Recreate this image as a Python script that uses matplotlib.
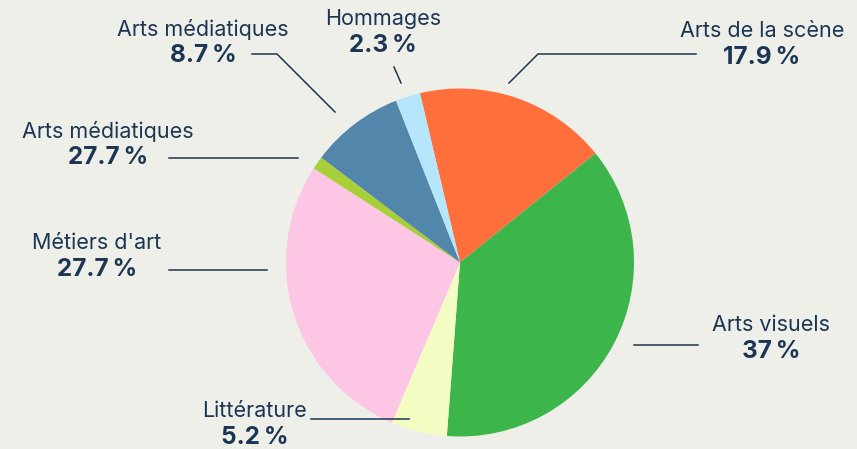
import matplotlib.pyplot as plt

# slice data, clockwise starting from the top
labels = ["Arts de la scène", "Arts visuels", "Littérature", "Métiers d'art",
          "Arts médiatiques", "Arts médiatiques", "Hommages"]
values = [17.9, 37.0, 5.2, 27.7, 1.2, 8.7, 2.3]
value_labels = ["17.9\u2009%", "37\u2009%", "5.2\u2009%", "27.7\u2009%",
                "27.7\u2009%", "8.7\u2009%", "2.3\u2009%"]
colors = ["#FF6F3C", "#3CB64B", "#F3FCC2", "#FDC6E4",
          "#A8CF38", "#5286AB", "#B5E6FC"]

W, H = 857, 449
bg = "#EFEFEA"
ink = "#1B3553"

plt.rcParams["font.family"] = ["Inter", "DejaVu Sans"]

fig = plt.figure(figsize=(W / 100, H / 100), dpi=100, facecolor=bg)
ax = fig.add_axes([0, 0, 1, 1])
ax.set_facecolor(bg)

cx, cy, r = 460, H - 262.5, 174
ax.pie(values, colors=colors, startangle=103.3, counterclock=False,
       center=(cx, cy), radius=r, frame=True,
       wedgeprops=dict(edgecolor="none"))
ax.set_xlim(0, W)
ax.set_ylim(0, H)
ax.set_aspect("equal")
ax.axis("off")

# label layout in image pixels: text centre x, name y, leader line points
layout = [
    (762, 31, [(696, 54), (538, 54), (509, 83)]),
    (771, 325, [(698, 345), (634, 345)]),
    (255, 411, [(311, 419), (409, 419)]),
    (97, 243, [(169, 270), (267, 270)]),
    (108, 131, [(169, 158), (298, 158)]),
    (203, 29, [(252, 54), (277, 54), (335, 112)]),
    (383, 19, [(394, 67), (401, 83)]),
]

for name, val, (tx, ty, pts) in zip(labels, value_labels, layout):
    ax.text(tx, H - ty, name, ha="center", va="center",
            fontsize=15.5, color=ink)
    ax.text(tx, H - ty - 27, val, ha="center", va="center",
            fontsize=17.5, fontweight="bold", color=ink)
    xs = [p[0] for p in pts]
    ys = [H - p[1] for p in pts]
    ax.plot(xs, ys, color=ink, linewidth=1.1)

fig.savefig("out.png", dpi=100, facecolor=bg)
